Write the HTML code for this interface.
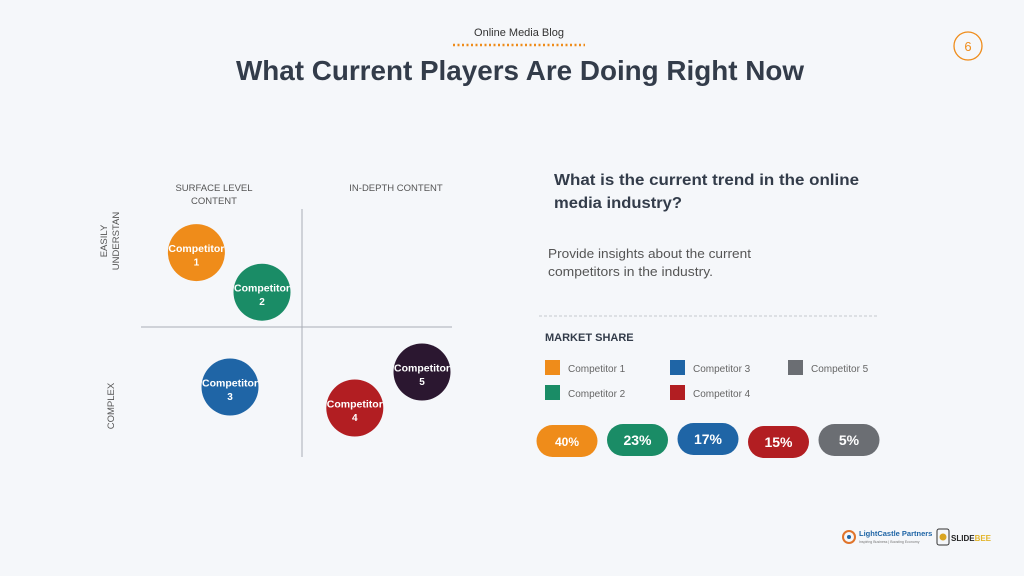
<!DOCTYPE html>
<html><head><meta charset="utf-8"><style>
html,body{margin:0;padding:0;background:#f5f7fa;}
svg{display:block;font-family:"Liberation Sans",sans-serif;}
</style></head><body>
<svg id="s" width="1024" height="576" viewBox="0 0 1024 576" xmlns="http://www.w3.org/2000/svg">
<rect width="1024" height="576" fill="#f5f7fa"/>
<text x="519" y="36" font-size="11" fill="#333" text-anchor="middle">Online Media Blog</text>
<line x1="453" y1="45" x2="585" y2="45" stroke="#ef8c1a" stroke-width="2.5" stroke-dasharray="2 2.5"/>
<circle cx="968" cy="46" r="14" fill="none" stroke="#ef8c1a" stroke-width="1.3"/>
<text x="968" y="51" font-size="13" fill="#ef8c1a" text-anchor="middle">6</text>
<text x="236" y="80" font-size="28" font-weight="bold" fill="#333c4a" textLength="568" lengthAdjust="spacingAndGlyphs">What Current Players Are Doing Right Now</text>

<text x="214" y="191" font-size="9.5" fill="#555" text-anchor="middle">SURFACE LEVEL</text>
<text x="214" y="204" font-size="9.5" fill="#555" text-anchor="middle">CONTENT</text>
<text x="396" y="191" font-size="9.5" fill="#555" text-anchor="middle">IN-DEPTH CONTENT</text>
<text transform="translate(107,241) rotate(-90)" font-size="9.5" fill="#555" text-anchor="middle">EASILY</text>
<text transform="translate(119,241) rotate(-90)" font-size="9.5" fill="#555" text-anchor="middle">UNDERSTAN</text>
<text transform="translate(114,406) rotate(-90)" font-size="9.5" fill="#555" text-anchor="middle">COMPLEX</text>
<line x1="302" y1="209" x2="302" y2="457" stroke="#a9aeb6" stroke-width="1"/>
<line x1="141" y1="327" x2="452" y2="327" stroke="#a9aeb6" stroke-width="1"/>
<g id="bubbles"></g>

<text x="554" y="185" font-size="16" font-weight="bold" fill="#333c4a" textLength="305" lengthAdjust="spacingAndGlyphs">What is the current trend in the online</text>
<text x="554" y="208" font-size="16" font-weight="bold" fill="#333c4a" textLength="128" lengthAdjust="spacingAndGlyphs">media industry?</text>
<text x="548" y="258" font-size="13" fill="#555" textLength="203" lengthAdjust="spacingAndGlyphs">Provide insights about the current</text>
<text x="548" y="276" font-size="13" fill="#555" textLength="165" lengthAdjust="spacingAndGlyphs">competitors in the industry.</text>
<line x1="539" y1="316" x2="879" y2="316" stroke="#c5c9cf" stroke-width="1" stroke-dasharray="3 2"/>
<text x="545" y="341" font-size="11" font-weight="bold" fill="#333c4a">MARKET SHARE</text>
<g id="legend"></g>
<g id="pills"></g>

<g>
<circle cx="849" cy="537" r="6" fill="none" stroke="#e0742b" stroke-width="2"/>
<circle cx="849" cy="537" r="2" fill="#1f65a6"/>
<text x="859" y="536" font-size="7.5" font-weight="bold" fill="#1f65a6">LightCastle Partners</text>
<text x="859" y="543" font-size="3.5" fill="#777">Inspiring Business | Boosting Economy</text>
</g>
<g>
<rect x="937" y="529" width="12" height="16" rx="2" fill="none" stroke="#333" stroke-width="1"/>
<circle cx="943" cy="537" r="3.5" fill="#d9a521"/>
<text x="951" y="541" font-size="8" font-weight="bold" fill="#222">SLIDE<tspan fill="#e3b52b">BEE</tspan></text>
</g>
</svg>
<script>
const names = ["Competitor 1","Competitor 2","Competitor 3","Competitor 4","Competitor 5"];
const bubbleX = [-6.6, -2.5, -4.5, 3.3, 7.5];
const bubbleY = [6.2, 2.9, -5.0, -6.75, -3.75];
const bubbleColors = ["#ef8c1a","#1a8c66","#1f65a6","#b21e22","#2b1730"];
const legendNames = ["Competitor 1","Competitor 2","Competitor 3","Competitor 4","Competitor 5"];
const legendColors = ["#ef8c1a","#1a8c66","#1f65a6","#b21e22","#6b6e73"];
const shareValues = [40, 23, 17, 15, 5];
const shareColors = ["#ef8c1a","#1a8c66","#1f65a6","#b21e22","#6b6e73"];

const NS = "http://www.w3.org/2000/svg";
function xs(v){return 302 + v*16;}
function ys(v){return 327 - v*12;}
function mk(tag, attrs){const e=document.createElementNS(NS,tag);for(const k in attrs)e.setAttribute(k,attrs[k]);return e;}

const bg = document.getElementById("bubbles");
names.forEach((n,i)=>{
  const cx=xs(bubbleX[i]), cy=ys(bubbleY[i]);
  const g=mk("g",{});
  
  
  g.appendChild(mk("circle",{cx:cx,cy:cy,r:28.5,fill:bubbleColors[i]}));
  const t1=mk("text",{x:cx,y:cy-0.5,"font-size":10.5,"font-weight":"bold",fill:"#fff","text-anchor":"middle",textLength:56,lengthAdjust:"spacingAndGlyphs"});
  t1.textContent="Competitor";
  const t2=mk("text",{x:cx,y:cy+13,"font-size":10,"font-weight":"bold",fill:"#fff","text-anchor":"middle"});
  t2.textContent=String(i+1);
  g.appendChild(t1);g.appendChild(t2);bg.appendChild(g);
});

const lg=document.getElementById("legend");
const legPos=[[545,360],[545,385],[670,360],[670,385],[788,360]];
legendNames.forEach((n,i)=>{
  const g=mk("g",{});
  
  
  const [x,y]=legPos[i];
  g.appendChild(mk("rect",{x:x,y:y,width:15,height:15,fill:legendColors[i]}));
  const t=mk("text",{x:x+23,y:y+12,"font-size":10,fill:"#666"});
  t.textContent=n;g.appendChild(t);lg.appendChild(g);
});

const pg=document.getElementById("pills");
const pillYOff=[1,0,-1,2,0];
shareValues.forEach((v,i)=>{
  const cx=567+i*70.5, cy=440+pillYOff[i];
  const g=mk("g",{});
  
  
  g.appendChild(mk("rect",{x:cx-30.5,y:cy-16,width:61,height:32,rx:16,fill:shareColors[i]}));
  const t=mk("text",{x:cx,y:cy+5,"font-size":i===0?12:14,"font-weight":"bold",fill:"#fff","text-anchor":"middle"});
  t.textContent=v+"%";g.appendChild(t);pg.appendChild(g);
});
</script>
</body></html>
